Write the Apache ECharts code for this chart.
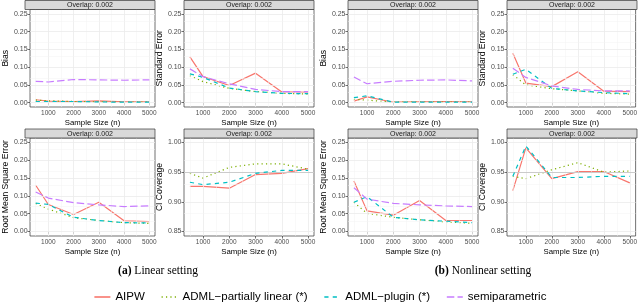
<!DOCTYPE html>
<html><head><meta charset="utf-8">
<script src="https://cdn.jsdelivr.net/npm/echarts@6/dist/echarts.min.js"></script>
<style>html,body{margin:0;padding:0;background:#fff}#c{width:640px;height:308px}</style>
</head><body><div id="c"></div>
<script>
// ---- data ----
const sampleSizes = [500, 1000, 2000, 3000, 4000, 5000];
const methods = ['AIPW', 'ADML\u2212partially linear (*)', 'ADML\u2212plugin (*)', 'semiparametric'];
const xTicks = [1000, 2000, 3000, 4000, 5000];
const errTicks = [0.00, 0.05, 0.10, 0.15, 0.20, 0.25];
const ciTicks = [0.85, 0.90, 0.95, 1.00];

// Linear setting
const linBiasAIPW = [0.008, 0.004, 0.003, 0.005, 0.002, 0.002];
const linBiasPL   = [0.007, 0.005, 0.003, 0.002, 0.001, 0.001];
const linBiasPlug = [0.003, 0.003, 0.003, 0.002, 0.001, 0.001];
const linBiasSemi = [0.060, 0.058, 0.065, 0.064, 0.063, 0.064];

const linSeAIPW = [0.129, 0.073, 0.048, 0.083, 0.030, 0.029];
const linSePL   = [0.076, 0.059, 0.040, 0.031, 0.026, 0.024];
const linSePlug = [0.081, 0.071, 0.041, 0.031, 0.026, 0.025];
const linSeSemi = [0.095, 0.073, 0.053, 0.037, 0.031, 0.031];

const linRmseAIPW = [0.130, 0.076, 0.048, 0.082, 0.030, 0.028];
const linRmsePL   = [0.079, 0.063, 0.039, 0.031, 0.025, 0.023];
const linRmsePlug = [0.080, 0.076, 0.040, 0.031, 0.025, 0.024];
const linRmseSemi = [0.111, 0.094, 0.081, 0.075, 0.070, 0.072];

const linCiAIPW = [0.926, 0.926, 0.923, 0.946, 0.948, 0.956];
const linCiPL   = [0.948, 0.940, 0.958, 0.964, 0.964, 0.955];
const linCiPlug = [0.933, 0.929, 0.933, 0.948, 0.953, 0.953];

// Nonlinear setting
const nlBiasAIPW = [0.004, 0.016, 0.001, 0.002, 0.003, 0.002];
const nlBiasPL   = [0.009, 0.007, 0.001, 0.001, 0.001, 0.001];
const nlBiasPlug = [0.014, 0.019, 0.001, 0.001, 0.001, 0.001];
const nlBiasSemi = [0.072, 0.053, 0.060, 0.063, 0.064, 0.061];

const nlSeAIPW = [0.139, 0.055, 0.045, 0.087, 0.032, 0.031];
const nlSePL   = [0.078, 0.050, 0.039, 0.033, 0.026, 0.024];
const nlSePlug = [0.080, 0.094, 0.040, 0.033, 0.028, 0.025];
const nlSeSemi = [0.097, 0.071, 0.047, 0.037, 0.033, 0.033];

const nlRmseAIPW = [0.142, 0.058, 0.046, 0.087, 0.031, 0.031];
const nlRmsePL   = [0.082, 0.051, 0.040, 0.033, 0.027, 0.023];
const nlRmsePlug = [0.082, 0.098, 0.040, 0.033, 0.029, 0.025];
const nlRmseSemi = [0.123, 0.091, 0.079, 0.075, 0.072, 0.070];

const nlCiAIPW = [0.919, 0.991, 0.939, 0.951, 0.951, 0.932];
const nlCiPL   = [0.943, 0.939, 0.954, 0.966, 0.950, 0.952];
const nlCiPlug = [0.943, 0.994, 0.941, 0.941, 0.943, 0.943];

const stripLabel = 'Overlap: 0.002';
const xTitle = 'Sample Size (n)';

// ---- layout / styling ----
const colors = ['#F8766D', '#7CAE00', '#00BFC4', '#C77CFF'];
const dashes = ['solid', [1.2, 3.2], [4.2, 4.2], [7.5, 3.2]];
const TOP1 = 9.5, H1 = 97.5, TOP2 = 138, H2 = 98;
const panels = [
  {left: 25,  top: TOP1, h: H1, yName: 'Bias',            ci: false, d: [linBiasAIPW, linBiasPL, linBiasPlug, linBiasSemi]},
  {left: 184, top: TOP1, h: H1, yName: 'Standard Error',  ci: false, d: [linSeAIPW, linSePL, linSePlug, linSeSemi]},
  {left: 348, top: TOP1, h: H1, yName: 'Bias',            ci: false, d: [nlBiasAIPW, nlBiasPL, nlBiasPlug, nlBiasSemi]},
  {left: 507, top: TOP1, h: H1, yName: 'Standard Error',  ci: false, d: [nlSeAIPW, nlSePL, nlSePlug, nlSeSemi]},
  {left: 25,  top: TOP2, h: H2, yName: 'Root Mean Square Error', ci: false, d: [linRmseAIPW, linRmsePL, linRmsePlug, linRmseSemi]},
  {left: 184, top: TOP2, h: H2, yName: 'CI Coverage',     ci: true,  d: [linCiAIPW, linCiPL, linCiPlug]},
  {left: 348, top: TOP2, h: H2, yName: 'Root Mean Square Error', ci: false, d: [nlRmseAIPW, nlRmsePL, nlRmsePlug, nlRmseSemi]},
  {left: 507, top: TOP2, h: H2, yName: 'CI Coverage',     ci: true,  d: [nlCiAIPW, nlCiPL, nlCiPlug]}
];
const W = 130;
const FONT = 'Liberation Sans, Arial, sans-serif';

const grid = [], xAxis = [], yAxis = [], series = [], graphic = [];
panels.forEach((p, i) => {
  grid.push({left: p.left, top: p.top, width: W, height: p.h, show: true,
    borderColor: '#333333', borderWidth: 0.7, backgroundColor: '#ffffff'});
  xAxis.push({type: 'value', gridIndex: i, min: 275, max: 5225,
    axisLine: {show: false}, splitLine: {show: false},
    axisTick: {show: true, length: 2.5, customValues: xTicks, lineStyle: {color: '#333', width: 0.7}},
    axisLabel: {customValues: xTicks, fontSize: 6.5, color: '#4D4D4D', margin: 2.5, fontFamily: FONT,
      formatter: v => String(v)},
    name: xTitle, nameLocation: 'middle', nameGap: 12,
    nameTextStyle: {fontSize: 7.8, color: '#000', fontFamily: FONT}});
  const yt = p.ci ? ciTicks : errTicks;
  const ymin = p.ci ? 0.8425 : -0.0125, ymax = p.ci ? 1.0075 : 0.2625;
  yAxis.push({type: 'value', gridIndex: i, min: ymin, max: ymax,
    axisLine: {show: false}, splitLine: {show: false},
    axisTick: {show: true, length: 2.5, customValues: yt, lineStyle: {color: '#333', width: 0.7}},
    axisLabel: {customValues: yt, fontSize: 7, color: '#4D4D4D', margin: 2.5, fontFamily: FONT,
      formatter: v => v.toFixed(2)},
    name: p.yName, nameLocation: 'middle', nameGap: 16, nameRotate: 90,
    nameTextStyle: {fontSize: 8.6, color: '#000', fontFamily: FONT}});
  // grid lines
  const ml = [];
  const step = 1000;
  xTicks.forEach(v => ml.push({xAxis: v, lineStyle: {color: '#EBEBEB', width: 0.8, type: 'solid'}}));
  xTicks.forEach(v => ml.push({xAxis: v - step / 2, lineStyle: {color: '#F3F3F3', width: 0.5, type: 'solid'}}));
  const ys = yt[1] - yt[0];
  yt.forEach(v => ml.push({yAxis: v, lineStyle: {color: '#EBEBEB', width: 0.8, type: 'solid'}}));
  yt.slice(0, -1).forEach(v => ml.push({yAxis: +(v + ys / 2).toFixed(4), lineStyle: {color: '#F3F3F3', width: 0.5, type: 'solid'}}));
  if (p.ci) ml.push({yAxis: 0.95, lineStyle: {color: '#C6C6C6', width: 0.9, type: 'solid'}});
  series.push({type: 'line', name: '_grid' + i, xAxisIndex: i, yAxisIndex: i, data: [], z: 1, silent: true,
    markLine: {silent: true, symbol: ['none', 'none'], label: {show: false}, animation: false, data: ml}});
  p.d.forEach((vals, m) => {
    series.push({type: 'line', name: methods[m], xAxisIndex: i, yAxisIndex: i, z: 3 + m,
      data: sampleSizes.map((x, k) => [x, vals[k]]),
      symbol: 'none', showSymbol: false, silent: true,
      lineStyle: {color: colors[m], width: 1.2, type: dashes[m]}, itemStyle: {color: colors[m]}});
  });
  // strip
  graphic.push({type: 'rect', shape: {x: p.left, y: p.top - 9, width: W, height: 9},
    style: {fill: '#D9D9D9', stroke: '#333333', lineWidth: 0.7}, z: 10});
  graphic.push({type: 'text', x: p.left + W / 2, y: p.top - 4.3, z: 11,
    style: {text: stripLabel, fontSize: 7, fill: '#1A1A1A', align: 'center', verticalAlign: 'middle', fontFamily: FONT}});
});

graphic.push({type: 'text', x: 158, y: 271, style: {text: '{b|(a)} Linear setting', align: 'center', verticalAlign: 'middle',
  fontSize: 11.5, fontFamily: 'Liberation Serif, DejaVu Serif, serif', fill: '#000',
  rich: {b: {fontWeight: 'bold', fontSize: 11.5, fontFamily: 'Liberation Serif, DejaVu Serif, serif'}}}});
graphic.push({type: 'text', x: 483, y: 271, style: {text: '{b|(b)} Nonlinear setting', align: 'center', verticalAlign: 'middle',
  fontSize: 11.5, fontFamily: 'Liberation Serif, DejaVu Serif, serif', fill: '#000',
  rich: {b: {fontWeight: 'bold', fontSize: 11.5, fontFamily: 'Liberation Serif, DejaVu Serif, serif'}}}});

const chart = echarts.init(document.getElementById('c'), null, {renderer: 'canvas'});
chart.setOption({
  animation: false,
  backgroundColor: '#ffffff',
  grid, xAxis, yAxis, series, graphic,
  legend: {data: methods, left: 'center', top: 286, itemWidth: 16, itemHeight: 8, itemGap: 16,
    selectedMode: false, itemStyle: {opacity: 0, borderWidth: 0},
    lineStyle: {width: 1.6},
    textStyle: {fontSize: 11.5, color: '#000', fontFamily: FONT, padding: [0, 0, 0, 0]}}
});
</script></body></html>
